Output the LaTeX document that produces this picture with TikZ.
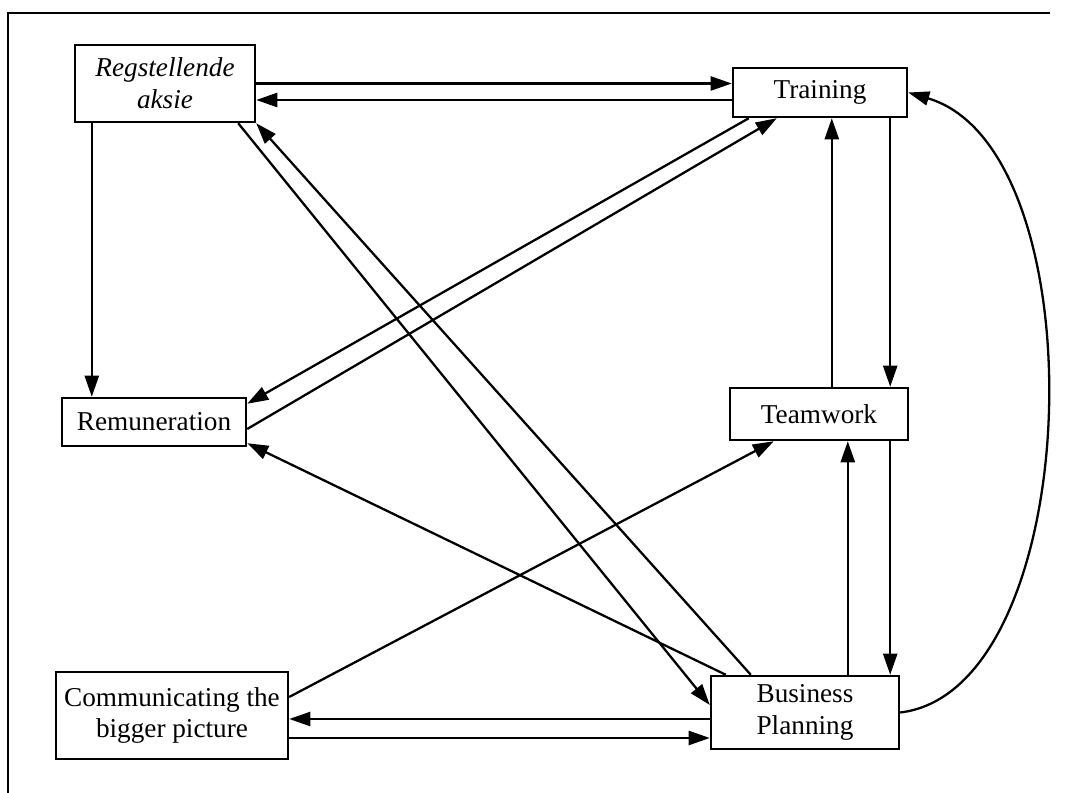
\documentclass[tikz,border=0pt]{standalone}
\usepackage{fontspec}
\setmainfont{Liberation Serif}
\usetikzlibrary{arrows.meta}
\begin{document}
\begin{tikzpicture}[x=0.02cm,y=-0.02cm,
  box/.style={draw,line width=1.4pt,inner sep=0pt,align=center,
    font=\fontsize{15.5}{18}\selectfont},
  link/.style={line width=1.3pt,-{Triangle[length=12pt,width=8pt]}},
  plain/.style={line width=1.3pt}]
\useasboundingbox (0,0) rectangle (1072,793);

% frame
\coordinate (fa) at (8,793);
\coordinate (fb) at (8,13);
\coordinate (fc) at (1050,13);
\draw[plain] (fa) -- (fb) -- (fc);

% boxes
\node[box,minimum width=3.6cm,minimum height=1.54cm] (reg) at (165,83.5)
  {\itshape Regstellende\\\itshape aksie};
\node[box,minimum width=3.48cm,minimum height=0.98cm] (train) at (820,92.5) {Training};
\node[box,minimum width=3.68cm,minimum height=0.96cm] (rem) at (154,422) {Remuneration};
\node[box,minimum width=3.56cm,minimum height=1.04cm] (team) at (819,414) {Teamwork};
\node[box,minimum width=4.64cm,minimum height=1.74cm] (comm) at (172,715.5)
  {Communicating the\\bigger picture};
\node[box,minimum width=3.76cm,minimum height=1.46cm] (bp) at (805,712.5)
  {Business\\Planning};

% Regstellende aksie <-> Training
\draw[link] (reg.east) -- (reg.east -| train.west);
\coordinate (t2) at ([shift={(0,7.5)}]train.west);
\draw[link] (t2) -- (t2 -| reg.east);

% Regstellende aksie -> Remuneration
\coordinate (r3) at ([shift={(18,0)}]reg.south west);
\draw[link] (r3) -- (r3 |- rem.north);

% Training <-> Remuneration
\draw[link] ([shift={(17,0)}]train.south west) -- ([shift={(0,7)}]rem.north east);
\draw[link] ([shift={(0,7)}]rem.east) -- ([shift={(45,0)}]train.south west);

% Regstellende aksie <-> Business Planning
\draw[link] ([shift={(-18,0)}]reg.south east) -- ([shift={(0,-7.5)}]bp.west);
\draw[link] ([shift={(41,0)}]bp.north west) -- (reg.south east);

% Business Planning -> Remuneration
\draw[link] ([shift={(16,0)}]bp.north west) -- ([shift={(0,-4)}]rem.south east);

% Communicating -> Teamwork
\draw[link] ([shift={(0,-18.5)}]comm.east) -- ([shift={(45,0)}]team.south west);

% Training <-> Teamwork
\coordinate (t10) at ([shift={(-18,0)}]train.south east);
\draw[link] (t10) -- (t10 |- team.north);
\coordinate (t11) at ([shift={(103,0)}]team.north west);
\draw[link] (t11) -- (t11 |- train.south);

% Teamwork <-> Business Planning
\coordinate (t12) at ([shift={(138,0)}]bp.north west);
\draw[link] (t12) -- (t12 |- team.south);
\coordinate (t13) at ([shift={(-19,0)}]team.south east);
\draw[link] (t13) -- (t13 |- bp.north);

% Business Planning <-> Communicating
\coordinate (t14) at ([shift={(0,6.5)}]bp.west);
\draw[link] (t14) -- (t14 -| comm.east);
\coordinate (t15) at ([shift={(0,22.5)}]comm.east);
\draw[link] (t15) -- (t15 -| bp.west);

% Business Planning -> Training (outer curve)
\draw[link] (bp.east) .. controls +(186,-22) and +(193,57) .. (train.east);
\end{tikzpicture}
\end{document}
